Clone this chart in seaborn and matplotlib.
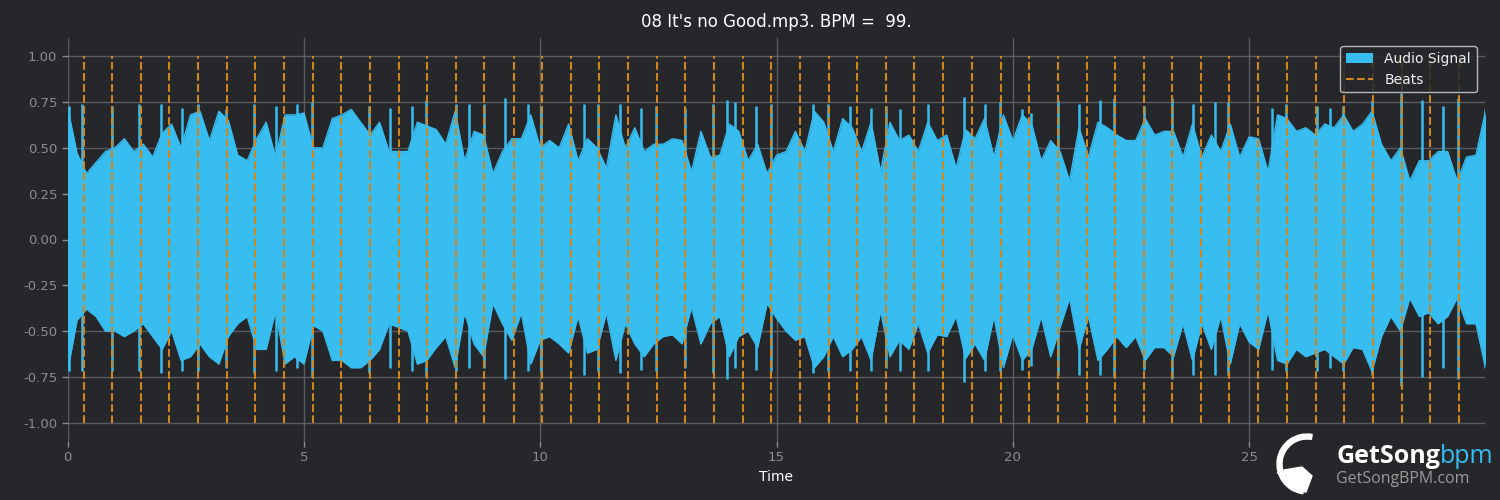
import matplotlib

matplotlib.use("Agg")
import matplotlib.pyplot as plt
from matplotlib.patches import Wedge, Polygon
import seaborn as sns
import numpy as np
import pandas as pd

# envelope of the signal, every 0.2 s (0 .. 30 s)
env_step = 0.2
upper = [
    0.72, 0.47, 0.36, 0.42, 0.48, 0.50, 0.55, 0.48, 0.52, 0.45,
    0.58, 0.63, 0.50, 0.68, 0.70, 0.54, 0.70, 0.65, 0.46, 0.43,
    0.55, 0.64, 0.45, 0.68, 0.68, 0.69, 0.50, 0.50, 0.66, 0.68,
    0.71, 0.64, 0.57, 0.64, 0.48, 0.48, 0.48, 0.64, 0.62, 0.60,
    0.52, 0.70, 0.43, 0.59, 0.57, 0.36, 0.48, 0.55, 0.55, 0.68,
    0.50, 0.54, 0.50, 0.63, 0.43, 0.55, 0.50, 0.39, 0.68, 0.50,
    0.61, 0.48, 0.52, 0.52, 0.55, 0.54, 0.37, 0.59, 0.45, 0.46,
    0.63, 0.59, 0.43, 0.52, 0.36, 0.46, 0.48, 0.59, 0.48, 0.70,
    0.64, 0.48, 0.66, 0.61, 0.48, 0.64, 0.37, 0.64, 0.54, 0.57,
    0.48, 0.64, 0.54, 0.57, 0.39, 0.60, 0.55, 0.66, 0.45, 0.68,
    0.54, 0.68, 0.63, 0.43, 0.54, 0.48, 0.32, 0.61, 0.45, 0.64,
    0.61, 0.57, 0.54, 0.54, 0.66, 0.57, 0.59, 0.59, 0.45, 0.63,
    0.45, 0.57, 0.48, 0.63, 0.45, 0.56, 0.55, 0.37, 0.68, 0.66,
    0.59, 0.61, 0.57, 0.63, 0.61, 0.68, 0.59, 0.63, 0.70, 0.52,
    0.43, 0.50, 0.32, 0.43, 0.43, 0.48, 0.48, 0.32, 0.45, 0.46,
    0.70,
]
lower = [
    -0.72, -0.44, -0.38, -0.42, -0.50, -0.50, -0.53, -0.50, -0.46, -0.53,
    -0.60, -0.50, -0.66, -0.64, -0.57, -0.64, -0.68, -0.53, -0.46, -0.42,
    -0.60, -0.60, -0.39, -0.68, -0.64, -0.68, -0.47, -0.50, -0.66, -0.66,
    -0.70, -0.70, -0.66, -0.60, -0.46, -0.48, -0.50, -0.68, -0.66, -0.59,
    -0.53, -0.70, -0.40, -0.57, -0.64, -0.35, -0.46, -0.55, -0.40, -0.68,
    -0.55, -0.53, -0.57, -0.62, -0.42, -0.62, -0.60, -0.40, -0.66, -0.46,
    -0.57, -0.64, -0.57, -0.53, -0.52, -0.57, -0.37, -0.57, -0.46, -0.42,
    -0.64, -0.53, -0.50, -0.59, -0.35, -0.43, -0.50, -0.55, -0.53, -0.70,
    -0.64, -0.53, -0.64, -0.60, -0.53, -0.66, -0.39, -0.64, -0.55, -0.60,
    -0.46, -0.62, -0.52, -0.53, -0.42, -0.65, -0.57, -0.66, -0.42, -0.70,
    -0.52, -0.66, -0.60, -0.42, -0.64, -0.48, -0.32, -0.60, -0.42, -0.66,
    -0.60, -0.53, -0.59, -0.53, -0.66, -0.59, -0.59, -0.64, -0.46, -0.66,
    -0.46, -0.60, -0.42, -0.68, -0.46, -0.56, -0.60, -0.39, -0.66, -0.68,
    -0.60, -0.64, -0.62, -0.60, -0.64, -0.68, -0.59, -0.60, -0.72, -0.53,
    -0.42, -0.50, -0.32, -0.42, -0.40, -0.46, -0.42, -0.32, -0.46, -0.46,
    -0.70,
]

# the tallest transients
spike_times = [
    0.02, 0.31, 0.93, 1.52, 1.98, 2.43, 2.75, 3.35, 3.95, 4.41, 4.86,
    5.17, 6.37, 6.83, 7.29, 7.59, 8.22, 8.50, 8.81, 9.26, 9.74,
    10.01, 10.93, 11.23, 11.69, 12.14, 12.44, 13.06, 13.66, 13.96, 14.12, 14.56, 14.88,
    15.78, 16.09, 16.55, 17.00, 17.31, 17.61, 18.21, 18.97, 19.41, 19.73,
    20.20, 20.38, 20.95, 21.40, 21.84, 22.15, 22.78, 23.36, 23.81, 24.27, 24.56,
    25.49, 25.77, 26.44, 26.72, 26.99, 27.59, 28.21, 28.65, 29.11, 29.41, 29.99,
]
spike_top = [
    0.73, 0.74, 0.73, 0.74, 0.74, 0.72, 0.74, 0.71, 0.74, 0.73, 0.74,
    0.75, 0.73, 0.72, 0.73, 0.76, 0.74, 0.74, 0.74, 0.77, 0.74,
    0.73, 0.74, 0.74, 0.74, 0.72, 0.73, 0.72, 0.74, 0.76, 0.75, 0.73, 0.74,
    0.74, 0.74, 0.73, 0.72, 0.73, 0.71, 0.74, 0.78, 0.74, 0.75,
    0.71, 0.69, 0.76, 0.74, 0.76, 0.77, 0.73, 0.77, 0.74, 0.75, 0.75,
    0.72, 0.74, 0.73, 0.72, 0.73, 0.76, 0.80, 0.76, 0.73, 0.77, 0.71,
]
spike_bottom = [
    -0.72, -0.72, -0.72, -0.72, -0.73, -0.72, -0.72, -0.70, -0.73, -0.72, -0.70,
    -0.75, -0.73, -0.70, -0.72, -0.75, -0.72, -0.70, -0.70, -0.76, -0.72,
    -0.72, -0.74, -0.72, -0.73, -0.71, -0.72, -0.70, -0.73, -0.76, -0.70, -0.71, -0.72,
    -0.73, -0.72, -0.72, -0.72, -0.70, -0.72, -0.72, -0.78, -0.72, -0.72,
    -0.71, -0.69, -0.74, -0.74, -0.74, -0.75, -0.71, -0.76, -0.74, -0.74, -0.74,
    -0.71, -0.72, -0.72, -0.70, -0.72, -0.74, -0.80, -0.75, -0.70, -0.76, -0.70,
]

beat_times = [
    0.34, 0.94, 1.55, 2.15, 2.76, 3.37, 3.97, 4.58, 5.19, 5.79,
    6.40, 7.01, 7.61, 8.22, 8.82, 9.44, 10.03, 10.65, 11.24, 11.86,
    12.46, 13.07, 13.68, 14.28, 14.89, 15.49, 16.10, 16.70, 17.31, 17.91,
    18.52, 19.13, 19.74, 20.34, 20.95, 21.56, 22.16, 22.77, 23.37, 23.98,
    24.58, 25.19, 25.79, 26.41, 27.01, 27.62, 28.23, 28.83, 29.44,
]

titulo = "08 It's no Good.mp3. BPM =  99."
duracion = 29.99

color_fondo = "#25272b"
color_senal = "#38bdf0"
color_beats = "#d0861e"
color_grid = "#5f6165"
color_ticks = "#8c8c8c"
color_texto = "#ffffff"

sns.set_theme(
    style="dark",
    rc={
        "figure.facecolor": color_fondo,
        "axes.facecolor": color_fondo,
        "axes.edgecolor": color_fondo,
        "grid.color": color_grid,
        "xtick.color": color_ticks,
        "ytick.color": color_ticks,
    },
)
plt.rcParams["font.family"] = ["DejaVu Sans"]

df = pd.DataFrame(
    {"time": np.arange(len(upper)) * env_step, "upper": upper, "lower": lower}
)

fig = plt.figure(figsize=(15, 5), dpi=100)
ax = fig.add_axes([0.0451, 0.118, 0.9449, 0.806])

ax.grid(True, color=color_grid, linewidth=1, alpha=0.9)
ax.set_axisbelow(True)

ax.fill_between(
    df["time"], df["lower"], df["upper"], color=color_senal, linewidth=0,
    label="Audio Signal", zorder=2,
)
sns.lineplot(data=df, x="time", y="upper", color=color_senal, linewidth=1, ax=ax, zorder=2)
sns.lineplot(data=df, x="time", y="lower", color=color_senal, linewidth=1, ax=ax, zorder=2)
ax.vlines(spike_times, spike_bottom, spike_top, color=color_senal, linewidth=1.8, zorder=2)

ax.vlines(
    beat_times, -1, 1, color=color_beats, linestyles="--", linewidth=1.5,
    label="Beats", zorder=3,
)

ax.set_xlim(0, duracion)
ax.set_ylim(-1.1, 1.1)
ax.set_xticks([0, 5, 10, 15, 20, 25])
ax.set_yticks([-1.0, -0.75, -0.5, -0.25, 0.0, 0.25, 0.5, 0.75, 1.0])
ax.yaxis.set_major_formatter(matplotlib.ticker.FormatStrFormatter("%.2f"))
ax.tick_params(axis="both", colors=color_ticks, labelsize=9.5, length=4, width=1,
               bottom=True, left=True)
for spine in ax.spines.values():
    spine.set_visible(False)

ax.set_title(titulo, color=color_texto, fontsize=12, pad=8)
ax.set_xlabel("Time", color=color_texto, fontsize=10, labelpad=4)
ax.set_ylabel("")

leyenda = ax.legend(
    loc="upper right", facecolor=color_fondo, edgecolor="#cfcfcf",
    framealpha=0.85, fontsize=10, borderaxespad=0.6,
)
for texto in leyenda.get_texts():
    texto.set_color("#eeeeee")

# GetSongBPM watermark
logo = fig.text(1336 / 1500, 1 - 463 / 500, "GetSong", color="white",
                fontsize=18, fontweight="bold", family=["Open Sans", "DejaVu Sans"],
                va="baseline")
ax.annotate("bpm", xy=(1, 0), xycoords=logo, va="bottom", color=color_senal,
            fontsize=18, family=["Open Sans", "DejaVu Sans"])
fig.text(1336 / 1500, 1 - 483 / 500, "GetSongBPM.com", color="#9a9a9a",
         fontsize=11.5, family=["Open Sans", "DejaVu Sans"], va="baseline")
fig.patches.append(Wedge((13.07, 0.36), 0.30, 80, 262, width=0.05, color="white",
                         transform=fig.dpi_scale_trans))
fig.patches.append(Polygon([(12.84, 0.30), (13.02, 0.33), (13.12, 0.24),
                            (13.06, 0.08), (12.92, 0.10)],
                           closed=True, color="white", transform=fig.dpi_scale_trans))
fig.patches.append(Polygon([(12.77, 0.27), (12.90, 0.29), (12.90, 0.26)],
                           closed=True, color="white", transform=fig.dpi_scale_trans))

fig.savefig("out.png", dpi=100, facecolor=fig.get_facecolor())
plt.close(fig)
